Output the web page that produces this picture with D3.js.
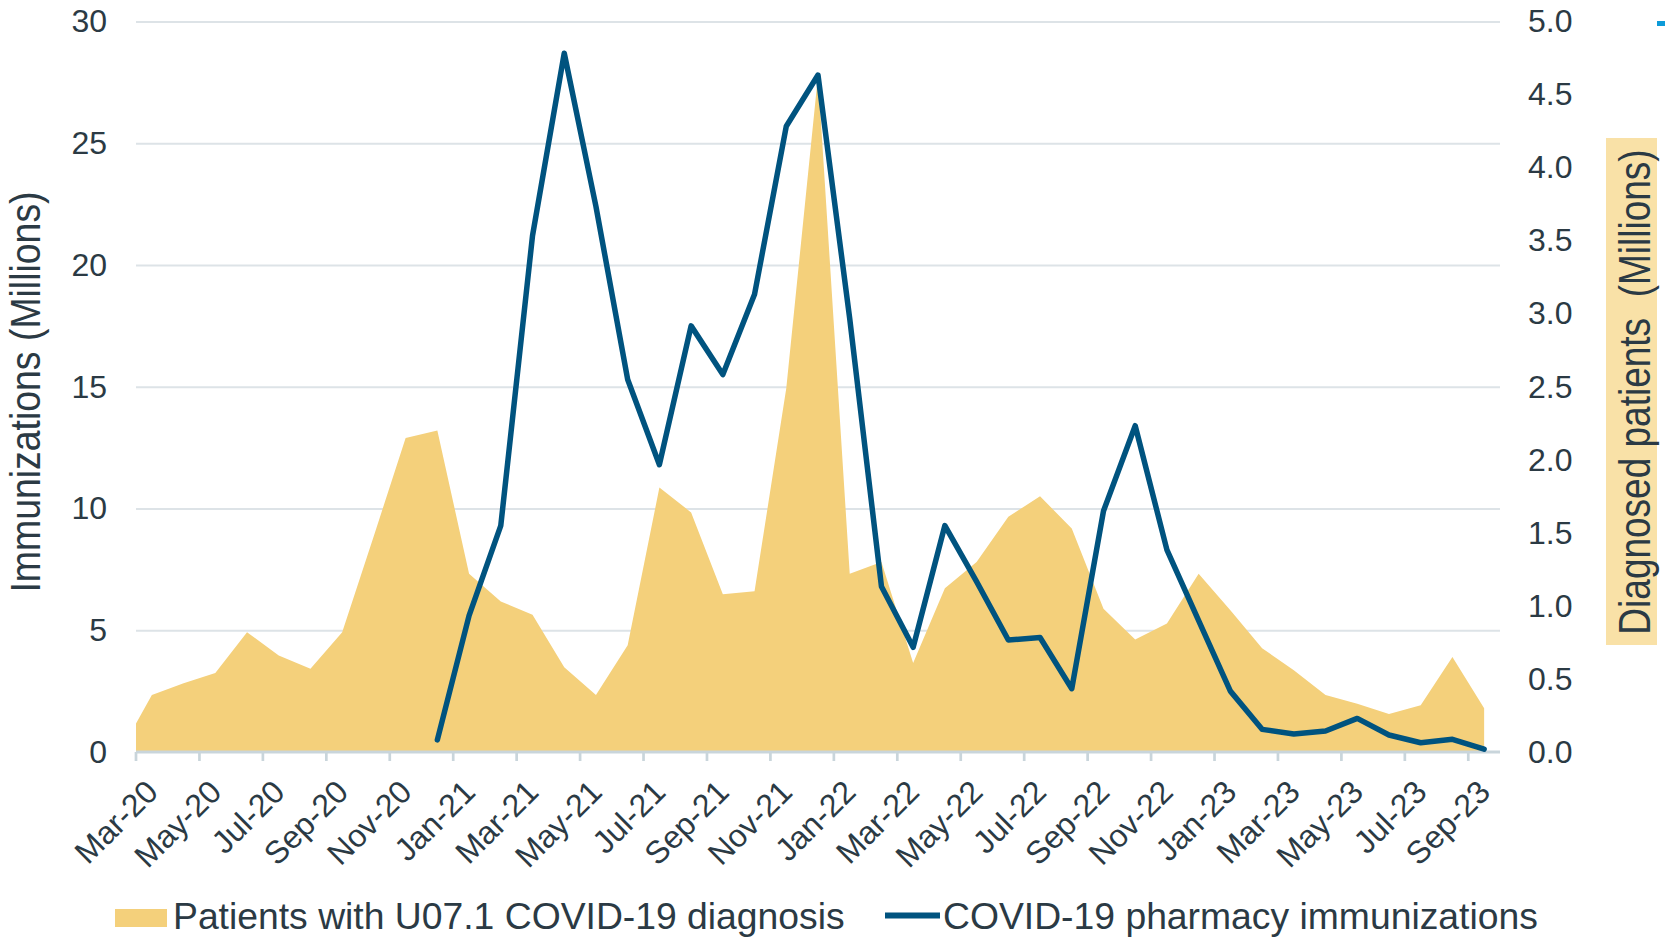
<!DOCTYPE html>
<html>
<head>
<meta charset="utf-8">
<script src="https://cdn.jsdelivr.net/npm/d3@7"></script>
<style>
  html, body { margin: 0; padding: 0; background: #fff; }
  svg { display: block; font-family: Arial, "Liberation Sans", sans-serif; }
</style>
</head>
<body>
<div id="chart"></div>
<script>
// Months on the category axis
const months = [
  "Mar-20", "Apr-20", "May-20", "Jun-20", "Jul-20", "Aug-20", "Sep-20", "Oct-20", "Nov-20", "Dec-20",
  "Jan-21", "Feb-21", "Mar-21", "Apr-21", "May-21", "Jun-21", "Jul-21", "Aug-21", "Sep-21", "Oct-21", "Nov-21", "Dec-21",
  "Jan-22", "Feb-22", "Mar-22", "Apr-22", "May-22", "Jun-22", "Jul-22", "Aug-22", "Sep-22", "Oct-22", "Nov-22", "Dec-22",
  "Jan-23", "Feb-23", "Mar-23", "Apr-23", "May-23", "Jun-23", "Jul-23", "Aug-23", "Sep-23"
];

// Patients with U07.1 diagnosis (millions, right axis)
const diagnosed = [
  0.39, 0.47, 0.54, 0.82, 0.66, 0.57, 0.82, 1.48, 2.15, 2.20,
  1.22, 1.03, 0.94, 0.58, 0.39, 0.73, 1.81, 1.64, 1.08, 1.10, 2.49, 4.63,
  1.22, 1.30, 0.61, 1.12, 1.30, 1.61, 1.75, 1.53, 0.98, 0.77, 0.88, 1.22,
  0.97, 0.71, 0.56, 0.39, 0.33, 0.26, 0.32, 0.65, 0.30
];
// month before the first category (Feb-20), only its slope shows at the left edge
const diagnosedPrev = 0;

// COVID-19 pharmacy immunizations (millions, left axis)
const immunizations = [
  null, null, null, null, null, null, null, null, null, 0.5,
  5.6, 9.3, 21.2, 28.7, 22.4, 15.3, 11.8, 17.5, 15.5, 18.8, 25.7, 27.8,
  17.8, 6.8, 4.3, 9.3, 7.0, 4.6, 4.7, 2.6, 9.9, 13.4, 8.3, 5.4,
  2.5, 0.93, 0.74, 0.86, 1.38, 0.70, 0.38, 0.52, 0.12
];

const leftTicks = [0, 5, 10, 15, 20, 25, 30];
const rightTicks = [0, 0.5, 1, 1.5, 2, 2.5, 3, 3.5, 4, 4.5, 5];
const labelMonths = months.filter((m, i) => i % 2 === 0);

const legendLabels = ["Patients with U07.1 COVID-19 diagnosis", "COVID-19 pharmacy immunizations"];

// Layout
const W = 1665, H = 938;
const plot = { left: 136, right: 1500, top: 21.5, bottom: 752 };
const COLORS = {
  area: "#f4d07b",
  line: "#00537f",
  text: "#2b3a44",
  grid: "#dde3e7",
  axis: "#c9d5db",
  titleBg: "#f9e1a7"
};

const svg = d3.select("#chart").append("svg")
  .attr("width", W)
  .attr("height", H)
  .attr("viewBox", `0 0 ${W} ${H}`);

svg.append("rect").attr("width", W).attr("height", H).attr("fill", "#fff");

const x = d3.scaleBand().domain(months).range([plot.left, plot.right]).padding(0);
const bw = x.bandwidth();
const cx = m => x(m) + bw / 2;
const yL = d3.scaleLinear().domain([0, 30]).range([plot.bottom, plot.top]);
const yR = d3.scaleLinear().domain([0, 5]).range([plot.bottom, plot.top]);

// Gridlines
svg.append("g")
  .attr("transform", `translate(${plot.left},0)`)
  .call(d3.axisLeft(yL).tickValues(leftTicks.slice(1)).tickSize(-(plot.right - plot.left)).tickFormat(""))
  .call(g => g.select(".domain").remove())
  .call(g => g.selectAll("line").attr("stroke", COLORS.grid).attr("stroke-width", 2));

// Clip for the area
svg.append("clipPath").attr("id", "plot-clip")
  .append("rect")
  .attr("x", plot.left).attr("y", 0)
  .attr("width", plot.right - plot.left).attr("height", plot.bottom + 2);

const areaPts = [{ x: x(months[0]) - bw / 2, v: diagnosedPrev }]
  .concat(months.map((m, i) => ({ x: cx(m), v: diagnosed[i] })));

const area = d3.area()
  .x(d => d.x)
  .y0(yR(0))
  .y1(d => yR(d.v));

svg.append("path")
  .datum(areaPts)
  .attr("clip-path", "url(#plot-clip)")
  .attr("fill", COLORS.area)
  .attr("d", area);

// X axis (line + boundary ticks every 2 months)
svg.append("line")
  .attr("x1", plot.left).attr("x2", plot.right)
  .attr("y1", plot.bottom).attr("y2", plot.bottom)
  .attr("stroke", COLORS.axis).attr("stroke-width", 3);

svg.append("g")
  .selectAll("line")
  .data(labelMonths)
  .enter()
  .append("line")
  .attr("x1", d => x(d)).attr("x2", d => x(d))
  .attr("y1", plot.bottom).attr("y2", plot.bottom + 9)
  .attr("stroke", COLORS.axis).attr("stroke-width", 2.7);

const xAxis = svg.append("g")
  .attr("transform", `translate(0,${plot.bottom})`)
  .call(d3.axisBottom(x).tickValues(labelMonths).tickSize(0).tickPadding(0));
xAxis.select(".domain").remove();
xAxis.selectAll("text")
  .attr("y", 0).attr("dy", "0.35em")
  .attr("transform", "translate(0,34) rotate(-45)")
  .attr("text-anchor", "end")
  .attr("font-size", 32)
  .attr("fill", COLORS.text);

// Immunizations line
const line = d3.line()
  .defined(d => d.v != null)
  .x(d => cx(d.m))
  .y(d => yL(d.v));

svg.append("path")
  .datum(months.map((m, i) => ({ m, v: immunizations[i] })))
  .attr("fill", "none")
  .attr("stroke", COLORS.line)
  .attr("stroke-width", 5.5)
  .attr("stroke-linejoin", "round")
  .attr("stroke-linecap", "round")
  .attr("d", line);

// Left axis labels
const leftAxis = svg.append("g")
  .attr("transform", `translate(${plot.left},0)`)
  .call(d3.axisLeft(yL).tickValues(leftTicks).tickSize(0).tickPadding(29));
leftAxis.select(".domain").remove();
leftAxis.selectAll("text").attr("font-size", 32).attr("fill", COLORS.text);

// Right axis labels
const rightAxis = svg.append("g")
  .attr("transform", `translate(${plot.right},0)`)
  .call(d3.axisRight(yR).tickValues(rightTicks).tickSize(0).tickPadding(28).tickFormat(d3.format(".1f")));
rightAxis.select(".domain").remove();
rightAxis.selectAll("text").attr("font-size", 32).attr("fill", COLORS.text);

// Axis titles
svg.append("text")
  .attr("transform", "translate(40,392) rotate(-90) scale(1,1.16)")
  .attr("text-anchor", "middle")
  .attr("font-size", 37.4)
  .attr("fill", COLORS.text)
  .text("Immunizations (Millions)");

svg.append("rect")
  .attr("x", 1606).attr("y", 138)
  .attr("width", 51).attr("height", 507)
  .attr("fill", COLORS.titleBg);

svg.append("text")
  .attr("transform", "translate(1650,392) rotate(-90) scale(1,1.22)")
  .attr("text-anchor", "middle")
  .attr("font-size", 37)
  .attr("fill", COLORS.text)
  .attr("xml:space", "preserve")
  .style("white-space", "pre")
  .text("Diagnosed patients  (Millions)");

// cut-off marker at the top right corner
svg.append("rect")
  .attr("x", 1657).attr("y", 21)
  .attr("width", 8).attr("height", 5)
  .attr("fill", "#0d9bd8");

// Legend
const legend = svg.append("g").attr("font-size", 37.3).attr("fill", COLORS.text);
legend.append("rect")
  .attr("x", 115).attr("y", 909)
  .attr("width", 52).attr("height", 18)
  .attr("fill", COLORS.area);
legend.append("text")
  .attr("x", 173).attr("y", 929)
  .text(legendLabels[0]);
legend.append("line")
  .attr("x1", 885).attr("x2", 940)
  .attr("y1", 915.5).attr("y2", 915.5)
  .attr("stroke", COLORS.line).attr("stroke-width", 6);
legend.append("text")
  .attr("x", 943).attr("y", 929)
  .text(legendLabels[1]);
</script>
</body>
</html>
